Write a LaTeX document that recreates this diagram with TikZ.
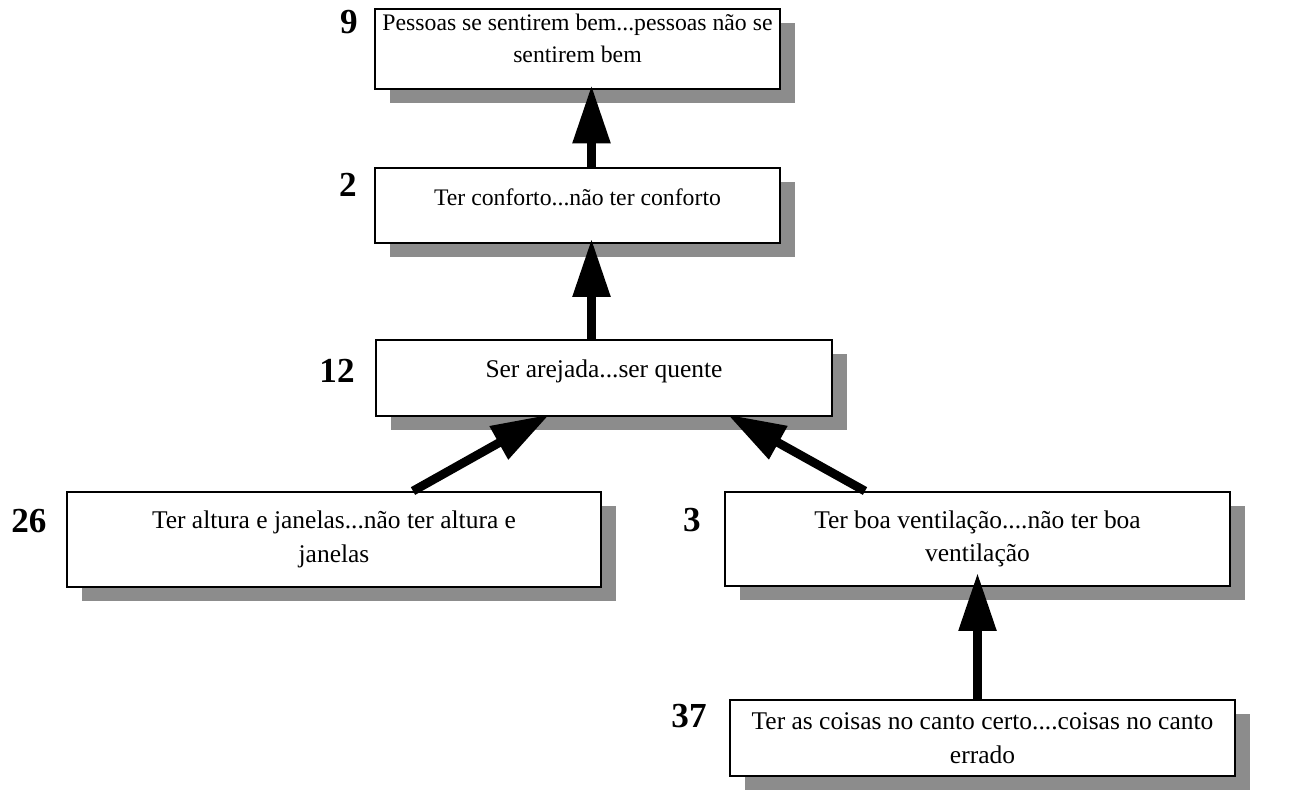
\documentclass[tikz,border=0pt]{standalone}
\usepackage{fontspec}
\setmainfont{Liberation Serif}
\usetikzlibrary{arrows.meta,shadows}

\begin{document}
\begin{tikzpicture}[
  box/.style={rectangle, draw=black, line width=1.1pt, fill=white,
              drop shadow={shadow xshift=0.3cm, shadow yshift=-0.28cm, fill=black!45, opacity=1},
              font=\fontsize{14.5}{19}\selectfont, minimum width=#1, minimum height=1.52cm, align=center},
  box/.default=8.1cm,
  small/.style={font=\fontsize{13.5}{18}\selectfont},
  num/.style={font=\fontsize{20}{22}\selectfont\bfseries},
  ar/.style={-{Triangle[length=1.16cm, width=0.72cm]}, line width=5pt, shorten >=-0.1cm}
]
\useasboundingbox (0,0) rectangle (25.8,-15.88);

\node[box, small, minimum height=1.56cm] (b9)  at (11.55,-0.98) {Pessoas se sentirem bem...pessoas não se\\sentirem bem\\[-6pt]\mbox{}};
\node[box, small, minimum height=1.5cm]  (b2)  at (11.55,-4.11) {Ter conforto...não ter conforto\\[-8pt]\mbox{}};
\node[box=9.12cm]                 (b12) at (12.08,-7.56) {Ser arejada...ser quente\\[-8pt]\mbox{}};
\node[box=10.68cm, minimum height=1.9cm] (b26) at (6.68,-10.79) {Ter altura e janelas...não ter altura e\\janelas};
\node[box=10.1cm, minimum height=1.88cm] (b3)  at (19.55,-10.78) {Ter boa ventilação....não ter boa\\ventilação};
\node[box=10.1cm]                 (b37) at (19.65,-14.76) {Ter as coisas no canto certo....coisas no canto\\errado};

\node[num] (n9)  at (6.98,-0.45)  {9};
\node[num] (n2)  at (6.96,-3.7)   {2};
\node[num] (n12) at (6.74,-7.42)  {12};
\node[num] (n26) at (0.58,-10.42) {26};
\node[num] (n3)  at (13.84,-10.4) {3};
\node[num] (n37) at (13.78,-14.33) {37};

% vertical axis of the upper chain
\coordinate (axis) at (11.83,0);

\draw[ar] (b2.north -| axis) -- (b9.south -| axis);
\draw[ar] (b12.north -| axis) -- (b2.south -| axis);
\draw[ar] ([xshift=1.58cm]b26.north) -- ([xshift=-1.18cm]b12.south);
\draw[ar] ([xshift=-2.25cm]b3.north) -- ([xshift=2.56cm]b12.south);
\draw[ar, shorten >=-0.28cm] (b37.north -| b3) -- (b3.south);
\end{tikzpicture}
\end{document}
